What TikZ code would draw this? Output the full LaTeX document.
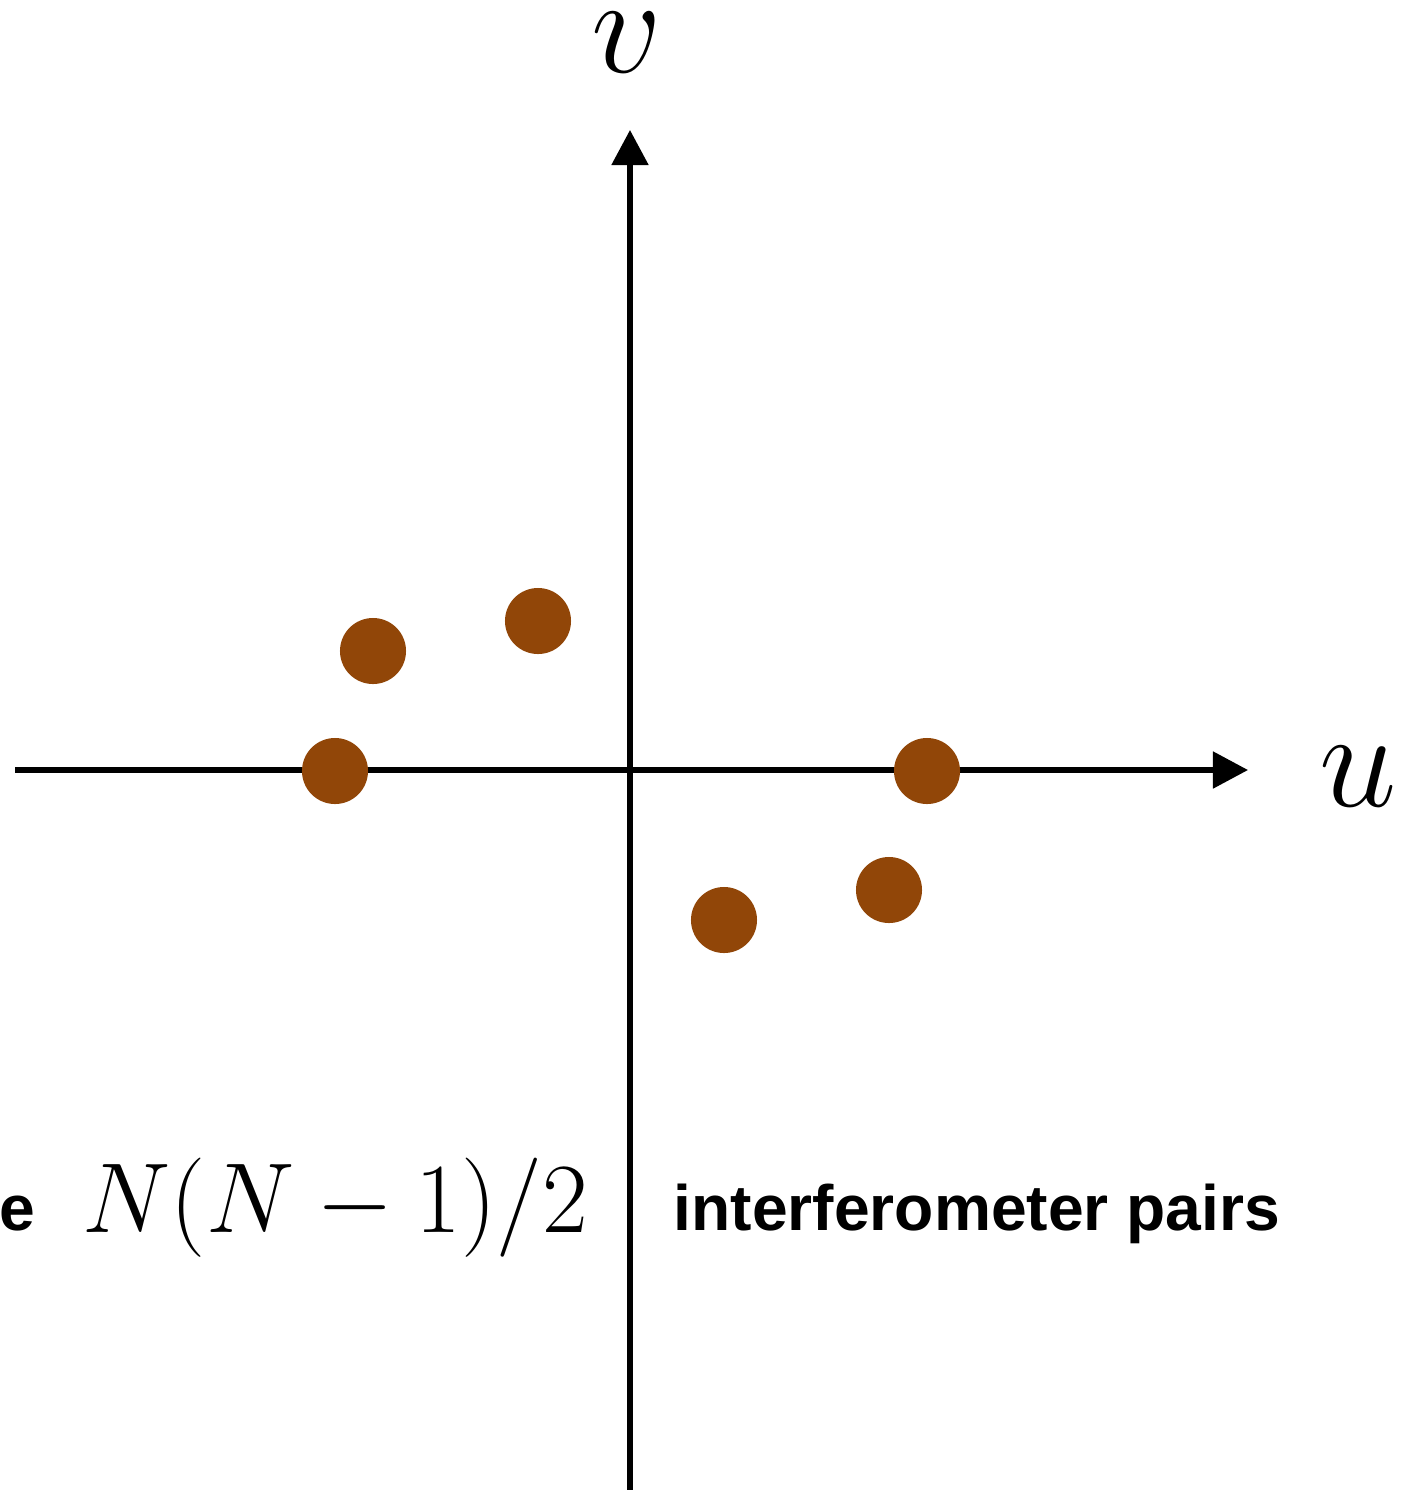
\RequirePackage{fix-cm}
\documentclass[tikz,border=0pt]{standalone}
\usepackage{amsmath,amssymb}
\usepackage{fontspec}
\setsansfont{Liberation Sans}
\usepackage{tikz}
\usetikzlibrary{arrows.meta}

\definecolor{dotbrown}{RGB}{145,70,8}

\tikzset{
  axis/.style={line width=1.45pt, -{Triangle[length=3.5mm, width=3.6mm]}},
  sample/.style={circle, fill=dotbrown, inner sep=0pt, minimum size=6.6mm},
  axislabel/.style={inner sep=0pt, anchor=base, font=\fontsize{39.5}{42}\selectfont},
  boldlabel/.style={font=\sffamily\bfseries\fontsize{18.25}{22}\selectfont, inner sep=0pt}
}

\begin{document}
\begin{tikzpicture}[x=0.01cm, y=-0.01cm]
\useasboundingbox (0,0) rectangle (1408,1490);

% axes
\coordinate (vbot) at (630,1492);
\coordinate (vtop) at (630,130);
\coordinate (uleft) at (15,770);
\coordinate (uright) at (1248,770);
\draw[axis] (vbot) -- (vtop);
\draw[axis] (uleft) -- (uright);

\node[axislabel] (vlab) at (627,72) {$v$};
\node[axislabel] (ulab) at (1358,806) {$u$};

% samples
\node[sample] (s1) at (373,651) {};
\node[sample] (s2) at (538,621) {};
\node[sample] (s3) at (335,771) {};
\node[sample] (s4) at (927,771) {};
\node[sample] (s5) at (724,920) {};
\node[sample] (s6) at (889,890) {};

% text under the axis
\node[boldlabel, anchor=base east] (cut) at (36,1230) {e};
\node[anchor=base west, inner sep=0pt, font=\fontsize{28.25}{31}\selectfont] (count) at (82,1232) {$N(N-1)/2$};
\node[boldlabel, anchor=base west] (pairs) at (673,1230) {interferometer pairs};

\end{tikzpicture}
\end{document}
